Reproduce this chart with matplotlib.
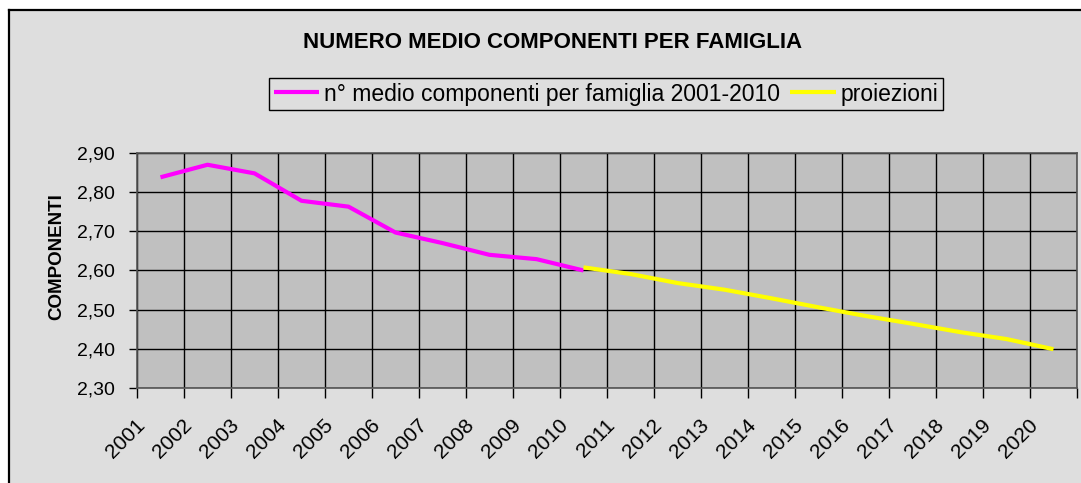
#!/usr/bin/env python3
"""
Numero medio componenti per famiglia - storico 2001-2010 e proiezioni fino al 2020.
Ricostruzione di un grafico in stile Excel.
"""

import matplotlib
matplotlib.use('Agg')
import matplotlib.pyplot as plt
from matplotlib.patches import Rectangle
from matplotlib.lines import Line2D
from matplotlib.ticker import FixedLocator, NullFormatter, FuncFormatter
from matplotlib.transforms import ScaledTranslation

matplotlib.rcParams['font.family'] = ['Liberation Sans', 'DejaVu Sans']

YEARS = [str(y) for y in range(2001, 2021)]

# valori osservati 2001-2010
STORICO_ANNI = YEARS[:10]
STORICO = [2.838, 2.870, 2.848, 2.778, 2.763, 2.697, 2.670, 2.640, 2.629, 2.600]

# proiezioni 2010-2020
PROIEZ_ANNI = YEARS[9:]
PROIEZIONI = [2.608, 2.591, 2.568, 2.551, 2.529, 2.506, 2.484, 2.464, 2.443, 2.425, 2.399]

Y_TICKS = [2.30, 2.40, 2.50, 2.60, 2.70, 2.80, 2.90]

TITLE = 'NUMERO MEDIO COMPONENTI PER FAMIGLIA'
YLABEL = 'COMPONENTI'
LABEL_STORICO = 'n° medio componenti per famiglia 2001-2010'
LABEL_PROIEZ = 'proiezioni'

CHART_BG = '#DEDEDE'
PLOT_BG = '#C0C0C0'
MAGENTA = '#FF00FF'
YELLOW = '#FFFF00'

W, H = 1081, 483


def pos(anni):
    # categorie centrate tra due linee della griglia
    return [YEARS.index(a) + 0.5 for a in anni]


def main():
    fig = plt.figure(figsize=(W / 100, H / 100), dpi=100)
    fig.patch.set_facecolor('white')

    # area del grafico (bordo visibile solo a sinistra e in alto)
    x0, y1 = 9 / W, 1 - 10 / H
    fig.patches.append(Rectangle((x0, 0), 1 - x0, y1, transform=fig.transFigure,
                                 facecolor=CHART_BG, edgecolor='none', zorder=-5))
    fig.lines.append(Line2D([x0, x0], [0, y1], transform=fig.transFigure,
                            color='black', linewidth=1.6, zorder=-4))
    fig.lines.append(Line2D([x0, 1], [y1, y1], transform=fig.transFigure,
                            color='black', linewidth=1.6, zorder=-4))

    ax = fig.add_axes([137 / W, 1 - 388 / H, 940 / W, 235 / H])
    ax.set_facecolor(PLOT_BG)

    ax.plot(pos(STORICO_ANNI), STORICO, color=MAGENTA, linewidth=3,
            solid_capstyle='butt', label=LABEL_STORICO, zorder=3)
    ax.plot(pos(PROIEZ_ANNI), PROIEZIONI, color=YELLOW, linewidth=3,
            solid_capstyle='butt', label=LABEL_PROIEZ, zorder=3)

    ax.set_xlim(0, len(YEARS))
    ax.set_ylim(2.30, 2.90)

    # griglia sui confini delle categorie, etichette al centro
    ax.xaxis.set_major_locator(FixedLocator(range(len(YEARS) + 1)))
    ax.xaxis.set_major_formatter(NullFormatter())
    ax.xaxis.set_minor_locator(FixedLocator(pos(YEARS)))
    ax.set_xticklabels(YEARS, minor=True)
    ax.tick_params(axis='x', which='major', direction='out', length=7,
                   width=1, color='black')
    ax.tick_params(axis='x', which='minor', length=0, pad=20, labelsize=15)
    for lab in ax.get_xticklabels(minor=True):
        lab.set_rotation(45)
        lab.set_ha('right')
        lab.set_va('top')
        lab.set_transform(lab.get_transform() +
                          ScaledTranslation(-0.12, 0, fig.dpi_scale_trans))

    ax.set_yticks(Y_TICKS)
    ax.yaxis.set_major_formatter(FuncFormatter(lambda v, p: f'{v:.2f}'.replace('.', ',')))
    ax.tick_params(axis='y', direction='out', length=6, width=1, color='black',
                   labelsize=14, pad=10)

    ax.grid(True, which='major', color='black', linewidth=1)
    ax.set_axisbelow(True)
    for sp in ax.spines.values():
        sp.set_color('#555555')
        sp.set_linewidth(1.2)

    ax.set_ylabel(YLABEL, fontsize=13.5, fontweight='bold')
    ax.yaxis.set_label_coords(-0.076, 0.56)

    fig.text(553 / W, 1 - 42 / H, TITLE, ha='center', va='center',
             fontsize=16, fontweight='bold')

    leg = ax.legend(loc='center', bbox_to_anchor=(606 / W, 1 - 94 / H),
                    bbox_transform=fig.transFigure, ncol=2, fontsize=16.5,
                    frameon=True, fancybox=False, handlelength=2.0,
                    handletextpad=0.2, columnspacing=0.45, borderpad=0.2,
                    borderaxespad=0)
    leg.get_frame().set_facecolor(CHART_BG)
    leg.get_frame().set_edgecolor('black')
    leg.get_frame().set_linewidth(1)
    leg.get_frame().set_alpha(1)

    fig.savefig('out.png', dpi=100)
    plt.close(fig)


if __name__ == '__main__':
    main()
